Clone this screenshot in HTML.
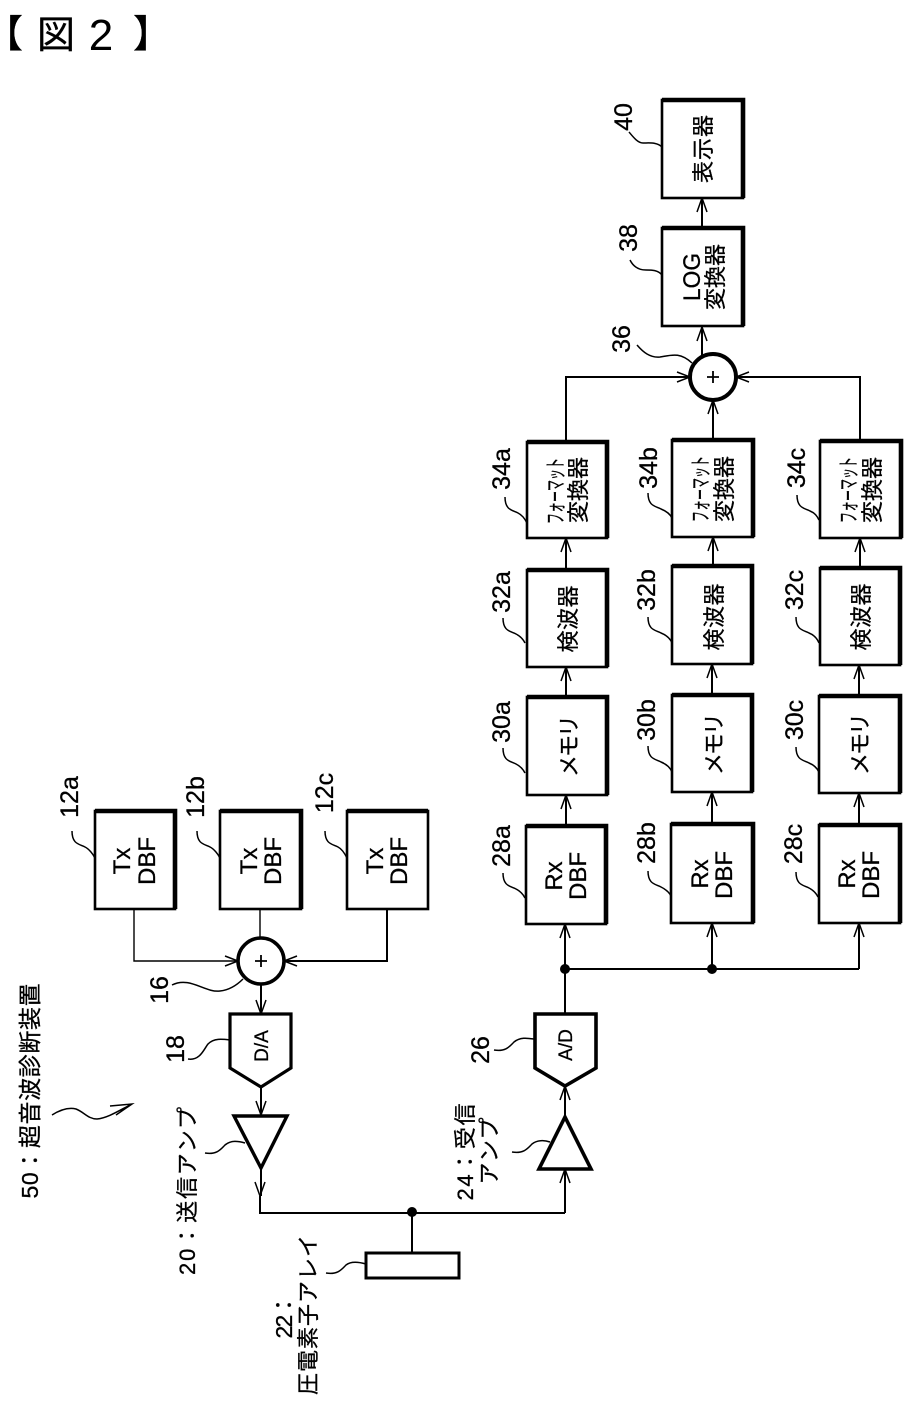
<!DOCTYPE html>
<html lang="ja"><head><meta charset="utf-8"><title>図2</title>
<style>
html,body{margin:0;padding:0;background:#fff;width:908px;height:1409px;overflow:hidden}
svg{display:block}
text{font-family:"Liberation Sans","Noto Sans CJK JP",sans-serif;fill:#000;stroke:#000;stroke-width:.3;text-anchor:middle}
.n{font-size:25px}
.c{font-size:22px}
.l{font-size:24px}
.f{font-size:21px}
.box{fill:#fff;stroke:#000;stroke-width:2.6}
.sh{fill:none;stroke:#000;stroke-width:4.6}
.w{fill:none;stroke:#000;stroke-width:1.5}
.a{fill:none;stroke:#000;stroke-width:2}
.t{fill:none;stroke:#000;stroke-width:1.4}
.h{fill:none;stroke:#000;stroke-width:1.5}
</style></head><body>
<svg xmlns="http://www.w3.org/2000/svg" width="908" height="1409" viewBox="0 0 908 1409">
<rect width="908" height="1409" fill="#fff"/>
<!-- title -->
<text x="4" y="47" style="font-size:38px">【</text>
<text x="56" y="48" style="font-size:38px">図</text>
<text x="101" y="50" style="font-size:44px;stroke-width:0">2</text>
<text x="152" y="47" style="font-size:38px">】</text>

<!-- connectors -->
<g class="a">
<path d="M702 228V198M702 355V327"/>
<path d="M566 442V377H692M713 440V400M860 441V377H736"/>
<path d="M566 570V538M713 566V537M860 568V538"/>
<path d="M566 697V667M712 695V664M859 696V665"/>
<path d="M566 826V795M712 824V792M859 825V793"/>
<path d="M565 1014V924M712 969V923M859 969V923M565 969H859"/>
<path d="M565 1116V1086M565 1213V1169M260 1196V1213H565"/>
<path d="M412 1212V1253"/>
<path d="M387 909V961H284"/>
<path d="M261 984V1014M261 1087V1115M261 1168V1196"/>
</g>
<path class="t" d="M134 909V961H238M260 909V938"/>
<!-- arrowheads -->
<g class="h">
<path d="M697 212L702 198L707 212M697 341L702 327L707 341"/>
<path d="M677 372L690 377L677 382M749 372L736 377L749 382M708 414L713 400L718 414"/>
<path d="M561 552L566 538L571 552M708 551L713 537L718 551M855 552L860 538L865 552"/>
<path d="M561 681L566 667L571 681M707 678L712 664L717 678M854 679L859 665L864 679"/>
<path d="M561 809L566 795L571 809M707 806L712 792L717 806M854 807L859 793L864 807"/>
<path d="M560 938L565 924L570 938M707 937L712 923L717 937M854 937L859 923L864 937"/>
<path d="M560 1100L565 1086L570 1100M560 1183L565 1169L570 1183"/>
<path d="M255 1182L260 1196L265 1182"/>
<path d="M225 956L238 961L225 966M297 956L284 961L297 966"/>
<path d="M256 1000L261 1014L266 1000M256 1101L261 1115L266 1101"/>
</g>
<circle cx="565" cy="969" r="5"/><circle cx="712" cy="969" r="5"/><circle cx="412" cy="1212" r="5"/>

<!-- boxes -->
<rect class="box" x="662" y="100" width="81" height="98"/><path class="sh" d="M662 100H743V198"/>
<rect class="box" x="662" y="228" width="81" height="98"/><path class="sh" d="M662 228H743V326"/>

<rect class="box" x="527" y="442" width="80" height="96"/><path class="sh" d="M527 442H607V538"/>
<rect class="box" x="672" y="440" width="81" height="97"/><path class="sh" d="M672 440H753V537"/>
<rect class="box" x="820" y="441" width="81" height="97"/><path class="sh" d="M820 441H901V538"/>

<rect class="box" x="527" y="570" width="80" height="97"/><path class="sh" d="M527 570H607V667"/>
<rect class="box" x="672" y="566" width="80" height="98"/><path class="sh" d="M672 566H752V664"/>
<rect class="box" x="820" y="568" width="80" height="97"/><path class="sh" d="M820 568H900V665"/>

<rect class="box" x="527" y="697" width="80" height="98"/><path class="sh" d="M527 697H607V795"/>
<rect class="box" x="672" y="695" width="80" height="97"/><path class="sh" d="M672 695H752V792"/>
<rect class="box" x="819" y="696" width="81" height="97"/><path class="sh" d="M819 696H900V793"/>

<rect class="box" x="526" y="826" width="80" height="98"/><path class="sh" d="M526 826H606V924"/>
<rect class="box" x="671" y="824" width="82" height="99"/><path class="sh" d="M671 824H753V923"/>
<rect class="box" x="819" y="825" width="81" height="98"/><path class="sh" d="M819 825H900V923"/>

<rect class="box" x="95" y="811" width="80" height="98"/><path class="sh" d="M95 811H175V909"/>
<rect class="box" x="220" y="811" width="81" height="98"/><path class="sh" d="M220 811H301V909"/>
<rect class="box" x="347" y="811" width="81" height="98"/><path class="sh" d="M347 811H428"/>

<rect class="box" x="366" y="1253" width="93" height="25" style="stroke-width:3"/>

<!-- adders -->
<circle cx="713" cy="377" r="23" fill="#fff" stroke="#000" stroke-width="4"/>
<path d="M713 371V383M707 377H719" stroke="#000" stroke-width="1.8"/>
<circle cx="261" cy="961" r="23" fill="#fff" stroke="#000" stroke-width="3.6"/>
<path d="M261 955V967M255 961H267" stroke="#000" stroke-width="1.8"/>

<!-- converters and amps -->
<path d="M230 1014H291V1068L261 1087L230 1068Z" fill="#fff" stroke="#000" stroke-width="3.2"/>
<path d="M535 1014H596V1068L565 1086L535 1068Z" fill="#fff" stroke="#000" stroke-width="3.6"/>
<path d="M234 1116H287L261 1168Z" fill="#fff" stroke="#000" stroke-width="3.4"/>
<path d="M565 1117L591 1169H539Z" fill="#fff" stroke="#000" stroke-width="3.6"/>

<!-- leaders -->
<g class="w">
<path d="M629 132C634 138 638 143 643 143C650 143 657 142 662 147"/>
<path d="M630 260C634 268 640 270 646 270C652 270 658 270 662 275"/>
<path d="M637 345C643 352 650 358 660 357C672 355 680 352 692 363"/>
<path d="M505 497C505 510 512 510 518 513C522 515 525 519 527 523"/>
<path d="M648 493C648 506 655 506 661 509C666 511 670 514 672 518"/>
<path d="M797 495C797 508 804 508 810 511C815 513 817 516 819 520"/>
<path d="M503 618C503 631 510 631 516 634C520 636 523 639 525 643"/>
<path d="M648 617C648 630 655 630 661 633C666 635 670 638 672 643"/>
<path d="M796 617C796 630 803 630 809 633C814 635 817 638 819 643"/>
<path d="M503 748C503 761 510 761 516 764C520 766 523 769 525 773"/>
<path d="M648 746C648 759 655 759 661 762C666 764 670 767 672 772"/>
<path d="M796 747C796 760 803 760 809 763C814 765 817 768 819 772"/>
<path d="M503 873C503 886 510 886 516 889C520 891 523 894 525 898"/>
<path d="M648 871C648 884 655 884 661 887C665 889 669 892 671 896"/>
<path d="M796 872C796 885 803 885 809 888C813 890 816 893 818 897"/>
<path d="M494 1050C506 1052 510 1046 514 1042C520 1037 527 1038 534 1039"/>
<path d="M512 1152C524 1154 528 1148 532 1144C537 1140 544 1140 550 1142"/>
<path d="M72 831C72 844 79 844 85 847C89 849 93 854 95 858"/>
<path d="M197 831C197 844 204 844 210 847C214 849 218 854 220 858"/>
<path d="M325 831C325 844 332 844 338 847C342 849 345 854 347 858"/>
<path d="M172 985C190 976 205 993 220 991C230 990 238 984 243 979"/>
<path d="M188 1059C200 1061 204 1049 208 1044C214 1038 222 1039 230 1040"/>
<path d="M205 1153C217 1155 221 1149 225 1145C231 1140 238 1141 245 1143"/>
<path d="M326 1273C338 1275 342 1269 346 1265C351 1261 359 1262 366 1264"/>
<path d="M52 1115C60 1110 68 1107 76 1109C84 1112 88 1119 97 1119C108 1118 120 1110 132 1104M110 1106L132 1104L116 1115"/>
</g>

<!-- reference numbers -->
<text class="n" transform="translate(632 117) rotate(-90)">40</text>
<text class="n" transform="translate(637 238) rotate(-90)">38</text>
<text class="n" transform="translate(630 339) rotate(-90)">36</text>
<text class="n" transform="translate(510 469) rotate(-90)">34a</text>
<text class="n" transform="translate(657 468) rotate(-90)">34b</text>
<text class="n" transform="translate(805 468) rotate(-90)">34c</text>
<text class="n" transform="translate(510 592) rotate(-90)">32a</text>
<text class="n" transform="translate(655 590) rotate(-90)">32b</text>
<text class="n" transform="translate(803 590) rotate(-90)">32c</text>
<text class="n" transform="translate(510 722) rotate(-90)">30a</text>
<text class="n" transform="translate(655 720) rotate(-90)">30b</text>
<text class="n" transform="translate(803 720) rotate(-90)">30c</text>
<text class="n" transform="translate(510 846) rotate(-90)">28a</text>
<text class="n" transform="translate(655 843) rotate(-90)">28b</text>
<text class="n" transform="translate(802 844) rotate(-90)">28c</text>
<text class="n" transform="translate(489 1050) rotate(-90)">26</text>
<text class="n" transform="translate(78 797) rotate(-90)">12a</text>
<text class="n" transform="translate(204 797) rotate(-90)">12b</text>
<text class="n" transform="translate(333 793) rotate(-90)">12c</text>
<text class="n" transform="translate(168 990) rotate(-90)">16</text>
<text class="n" transform="translate(184 1049) rotate(-90)">18</text>

<!-- inside boxes -->
<text class="c" transform="translate(711 149) rotate(-90)" textLength="68" lengthAdjust="spacing">表示器</text>
<text class="l" transform="translate(700 277) rotate(-90)" textLength="48" lengthAdjust="spacingAndGlyphs">LOG</text>
<text class="c" transform="translate(723 277) rotate(-90)" textLength="66" lengthAdjust="spacing">変換器</text>

<text class="f" transform="translate(563 491) rotate(-90)" textLength="66" lengthAdjust="spacingAndGlyphs">フォーマット</text>
<text class="c" transform="translate(586 490) rotate(-90)" textLength="66" lengthAdjust="spacing">変換器</text>
<text class="f" transform="translate(708 489) rotate(-90)" textLength="66" lengthAdjust="spacingAndGlyphs">フォーマット</text>
<text class="c" transform="translate(732 489) rotate(-90)" textLength="66" lengthAdjust="spacing">変換器</text>
<text class="f" transform="translate(856 490) rotate(-90)" textLength="66" lengthAdjust="spacingAndGlyphs">フォーマット</text>
<text class="c" transform="translate(880 490) rotate(-90)" textLength="66" lengthAdjust="spacing">変換器</text>

<text class="c" transform="translate(576 619) rotate(-90)" textLength="67" lengthAdjust="spacing">検波器</text>
<text class="c" transform="translate(722 617) rotate(-90)" textLength="67" lengthAdjust="spacing">検波器</text>
<text class="c" transform="translate(869 617) rotate(-90)" textLength="67" lengthAdjust="spacing">検波器</text>

<text class="c" transform="translate(577 746) rotate(-90)" textLength="62" lengthAdjust="spacing">メモリ</text>
<text class="c" transform="translate(722 744) rotate(-90)" textLength="62" lengthAdjust="spacing">メモリ</text>
<text class="c" transform="translate(868 744) rotate(-90)" textLength="62" lengthAdjust="spacing">メモリ</text>

<text class="l" transform="translate(562 876) rotate(-90)">Rx</text>
<text class="l" transform="translate(586 876) rotate(-90)">DBF</text>
<text class="l" transform="translate(708 874) rotate(-90)">Rx</text>
<text class="l" transform="translate(732 875) rotate(-90)">DBF</text>
<text class="l" transform="translate(855 874) rotate(-90)">Rx</text>
<text class="l" transform="translate(879 875) rotate(-90)">DBF</text>

<text class="l" transform="translate(130 861) rotate(-90)">Tx</text>
<text class="l" transform="translate(155 861) rotate(-90)">DBF</text>
<text class="l" transform="translate(257 861) rotate(-90)">Tx</text>
<text class="l" transform="translate(281 861) rotate(-90)">DBF</text>
<text class="l" transform="translate(383 861) rotate(-90)">Tx</text>
<text class="l" transform="translate(407 861) rotate(-90)">DBF</text>

<text transform="translate(572 1045) rotate(-90)" style="font-size:19px">A/D</text>
<text transform="translate(268 1046) rotate(-90)" style="font-size:19px">D/A</text>

<!-- labels -->
<text transform="translate(38 1091) rotate(-90)" style="font-size:23px" textLength="215" lengthAdjust="spacing">50：超音波診断装置</text>
<text transform="translate(195 1191) rotate(-90)" style="font-size:22px" textLength="168" lengthAdjust="spacing">20：送信アンプ</text>
<text transform="translate(473 1152) rotate(-90)" style="font-size:22px" textLength="97" lengthAdjust="spacing">24：受信</text>
<text transform="translate(497 1151) rotate(-90)" style="font-size:22px" textLength="67" lengthAdjust="spacing">アンプ</text>
<text transform="translate(292 1316) rotate(-90)" style="font-size:23px" textLength="45" lengthAdjust="spacing">22：</text>
<text transform="translate(316 1315) rotate(-90)" style="font-size:22px" textLength="160" lengthAdjust="spacing">圧電素子アレイ</text>
</svg>
</body></html>
